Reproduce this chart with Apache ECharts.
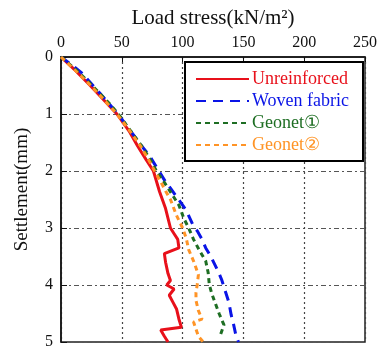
<!DOCTYPE html>
<html>
<head>
<meta charset="utf-8">
<script src="https://cdn.jsdelivr.net/npm/echarts@6/dist/echarts.min.js"></script>
<style>
  html, body { margin: 0; padding: 0; background: #fff; }
  #chart { width: 380px; height: 350px; }
</style>
</head>
<body>
<div id="chart"></div>
<script>
// settlement (mm) vs load stress (kN/m2), pairs [stress, settlement]
const unreinforced = [
  [0, 0], [12, 0.24], [24, 0.5], [35, 0.75], [46, 1.0], [56, 1.3], [63, 1.56], [70, 1.8],
  [76, 2.0], [81, 2.36], [86, 2.66], [90, 3.0], [93, 3.1], [96, 3.2], [97, 3.35],
  [85, 3.45], [86, 3.6], [88, 3.8], [90, 3.92], [87, 4.0], [93, 4.07], [89, 4.18],
  [92, 4.3], [95, 4.42], [97, 4.6], [99, 4.74], [82, 4.79], [85, 4.9], [88, 5.0]
];
const wovenFabric = [
  [0, 0], [9, 0.14], [17, 0.28], [25, 0.47], [33, 0.66], [42, 0.88], [50, 1.09],
  [59, 1.35], [66, 1.55], [73, 1.74], [79, 1.95], [86, 2.19], [90, 2.3], [95, 2.45],
  [99, 2.57], [103, 2.69], [109, 2.97], [112, 3.05], [116, 3.2], [119, 3.35],
  [123, 3.49], [126, 3.62], [129, 3.75], [132, 3.9], [135, 4.1], [138, 4.3],
  [140, 4.53], [142, 4.7], [144, 4.9], [146, 5.0]
];
const geonet1 = [
  [0, 0], [10, 0.18], [20, 0.38], [30, 0.6], [40, 0.82], [49, 1.05], [58, 1.32],
  [66, 1.55], [72, 1.75], [79, 2.02], [85, 2.2], [91, 2.4], [97, 2.6], [101, 2.83],
  [105, 3.0], [109, 3.2], [114, 3.4], [119, 3.58], [121, 3.78], [122, 4.0],
  [124, 4.15], [126, 4.27], [130, 4.5], [134, 4.7], [131, 4.88]
];
const geonet2 = [
  [0, 0], [11, 0.22], [23, 0.47], [35, 0.74], [46, 1.0], [56, 1.28], [65, 1.55],
  [72, 1.8], [77, 2.0], [82, 2.19], [86, 2.35], [90, 2.5], [95, 2.78], [100, 3.0],
  [103, 3.18], [105, 3.38], [109, 3.58], [113, 3.82], [112, 4.0], [111, 4.13],
  [111, 4.27], [113, 4.45], [116, 4.6], [109, 4.65], [113, 4.9], [117, 5.0]
];
const seriesNames = ['Unreinforced', 'Woven fabric', 'Geonet①', 'Geonet②'];
const seriesColors = ['#e8101a', '#0a14e6', '#1e6e23', '#ff9426'];

const font = '"Liberation Serif", "Times New Roman", serif';
const chart = echarts.init(document.getElementById('chart'));

function mkLine(name, data, color, type) {
  return {
    name: name,
    type: 'line',
    data: data,
    showSymbol: false,
    symbol: 'none',
    clip: true,
    lineStyle: { color: color, width: 3, type: type },
    itemStyle: { color: color }
  };
}

chart.setOption({
  backgroundColor: '#fff',
  animation: false,
  grid: {
    left: 61, right: 14, top: 57, bottom: 5,
    show: true, borderColor: '#222', borderWidth: 1.5
  },
  legend: {
    orient: 'vertical',
    left: 185, top: 62,
    padding: [8, 14, 7, 10],
    backgroundColor: '#fff',
    borderColor: '#000',
    borderWidth: 2,
    itemWidth: 53,
    itemHeight: 12,
    itemGap: 4,
    itemStyle: { opacity: 0 },
    data: seriesNames.map((n, i) => ({
      name: n,
      textStyle: { color: seriesColors[i] }
    })),
    textStyle: { fontFamily: font, fontSize: 18, padding: [0, 0, 0, -2] }
  },
  xAxis: {
    type: 'value',
    position: 'top',
    min: 0, max: 250, interval: 50,
    name: 'Load stress(kN/m²)',
    nameLocation: 'middle',
    nameGap: 28,
    nameTextStyle: { fontFamily: font, fontSize: 21, color: '#111' },
    axisLine: { lineStyle: { color: '#111', width: 1.5 } },
    axisTick: { inside: true, length: 5, lineStyle: { color: '#111' } },
    axisLabel: { fontFamily: font, fontSize: 16, color: '#111', margin: 6 },
    splitLine: { show: true, lineStyle: { color: '#444', type: [2, 3], width: 1.2 } }
  },
  yAxis: {
    type: 'value',
    inverse: true,
    min: 0, max: 5, interval: 1,
    name: 'Settlement(mm)',
    nameLocation: 'middle',
    nameGap: 29,
    nameTextStyle: { fontFamily: font, fontSize: 19, color: '#111', padding: [0, 0, 0, 20] },
    axisLine: { lineStyle: { color: '#111', width: 1.5 } },
    axisTick: { inside: true, length: 6, lineStyle: { color: '#111' } },
    axisLabel: { fontFamily: font, fontSize: 16, color: '#111', margin: 8 },
    splitLine: { show: true, lineStyle: { color: '#555', type: [5, 3, 2, 3], width: 1.2 } }
  },
  series: [
    mkLine(seriesNames[0], unreinforced, seriesColors[0], 'solid'),
    mkLine(seriesNames[1], wovenFabric, seriesColors[1], [10, 7]),
    mkLine(seriesNames[2], geonet1, seriesColors[2], [5, 4]),
    mkLine(seriesNames[3], geonet2, seriesColors[3], [5, 4])
  ]
});
</script>
</body>
</html>
